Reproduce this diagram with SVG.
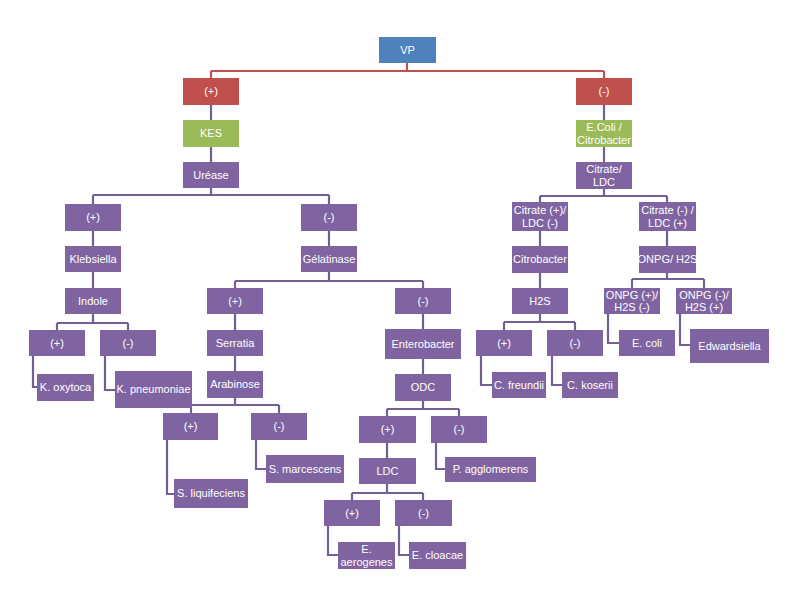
<svg xmlns="http://www.w3.org/2000/svg" width="797" height="599" viewBox="0 0 797 599">
<style>
.b{fill:#4F81BD}.r{fill:#C0504D}.g{fill:#9BBB59}.p{fill:#8064A2}
text{font-family:"Liberation Sans",Arial,sans-serif;font-size:11px;fill:#fff;text-anchor:middle}
.c{fill:none;stroke:#745F94;stroke-width:2.2}
.cr{fill:none;stroke:#C0504D;stroke-width:2.2}
</style>
<rect width="797" height="599" fill="#fff"/>
<g id="connectors">
<path class="cr" d="M407 63V71M211 71H604M211 71V78M604 71V78"/>
<path class="c" d="M211 105V120M211 147V162M604 105V120M604 147V162"/>
<path class="c" d="M211 188V195M93 195H329M93 195V204M329 195V204"/>
<path class="c" d="M93 231V246M93 272V288"/>
<path class="c" d="M93 314V323M57 323H128M57 323V330M128 323V330"/>
<path class="c" d="M33 356V387H37M105 356V390H115"/>
<path class="c" d="M329 231V246M329 272V281M235 281H423M235 281V288M423 281V288"/>
<path class="c" d="M235 314V330M235 356V371M235 398V405M191 405H279M191 405V413M279 405V413"/>
<path class="c" d="M167 440V494H174M256 440V469H266"/>
<path class="c" d="M423 314V329M423 359V374M423 401V409M387 409H459M387 409V416M459 409V416"/>
<path class="c" d="M387 443V458M436 443V469H445"/>
<path class="c" d="M387 484V493M352 493H423M352 493V500M423 493V500"/>
<path class="c" d="M328 526V555H338M399 526V555H409"/>
<path class="c" d="M604 189V196M540 196H667M540 196V202M667 196V202"/>
<path class="c" d="M540 231V246M540 273V288M540 314V322M504 322H575M504 322V330M575 322V330"/>
<path class="c" d="M481 356V385H492M552 356V385H562"/>
<path class="c" d="M667 231V246M667 273V279M632 279H704M632 279V288M704 279V288"/>
<path class="c" d="M608 314V343H619M680 314V345H690"/>
</g>
<g id="vp"><rect class="b" x="379" y="37" width="57" height="26"/><text x="407.5" y="54">VP</text></g>
<g id="pos1"><rect class="r" x="183" y="78" width="56" height="27"/><text x="211" y="95">(+)</text></g>
<g id="neg1"><rect class="r" x="576" y="78" width="56" height="27"/><text x="604" y="95">(-)</text></g>
<g id="kes"><rect class="g" x="183" y="120" width="56" height="27"/><text x="211" y="137">KES</text></g>
<g id="ecoli_citrobacter"><rect class="g" x="576" y="120" width="56" height="27"/><text x="604" y="131">E.Coli /</text><text x="604" y="144">Citrobacter</text></g>
<g id="urease"><rect class="p" x="183" y="162" width="56" height="26"/><text x="211" y="179">Uréase</text></g>
<g id="citrate_ldc"><rect class="p" x="576" y="162" width="56" height="27"/><text x="604" y="173">Citrate/</text><text x="604" y="186">LDC</text></g>
<g id="u_pos"><rect class="p" x="65" y="204" width="56" height="27"/><text x="93" y="221">(+)</text></g>
<g id="u_neg"><rect class="p" x="301" y="204" width="56" height="27"/><text x="329" y="221">(-)</text></g>
<g id="klebsiella"><rect class="p" x="65" y="246" width="56" height="26"/><text x="93" y="263">Klebsiella</text></g>
<g id="gelatinase"><rect class="p" x="301" y="246" width="56" height="26"/><text x="329" y="263">Gélatinase</text></g>
<g id="indole"><rect class="p" x="65" y="288" width="56" height="26"/><text x="93" y="305">Indole</text></g>
<g id="i_pos"><rect class="p" x="29" y="330" width="56" height="26"/><text x="57" y="347">(+)</text></g>
<g id="i_neg"><rect class="p" x="100" y="330" width="56" height="26"/><text x="128" y="347">(-)</text></g>
<g id="k_oxytoca"><rect class="p" x="37" y="374" width="57" height="27"/><text x="65.5" y="391">K. oxytoca</text></g>
<g id="k_pneumoniae"><rect class="p" x="115" y="371" width="77" height="37"/><text x="153.5" y="393">K. pneumoniae</text></g>
<g id="g_pos"><rect class="p" x="207" y="288" width="56" height="26"/><text x="235" y="305">(+)</text></g>
<g id="serratia"><rect class="p" x="207" y="330" width="56" height="26"/><text x="235" y="347">Serratia</text></g>
<g id="arabinose"><rect class="p" x="207" y="371" width="56" height="27"/><text x="235" y="388">Arabinose</text></g>
<g id="a_pos"><rect class="p" x="163" y="413" width="55" height="27"/><text x="190.5" y="430">(+)</text></g>
<g id="a_neg"><rect class="p" x="251" y="413" width="56" height="27"/><text x="279" y="430">(-)</text></g>
<g id="s_marcescens"><rect class="p" x="266" y="455" width="78" height="28"/><text x="305" y="473">S. marcescens</text></g>
<g id="s_liquifeciens"><rect class="p" x="174" y="479" width="74" height="29"/><text x="211" y="497">S. liquifeciens</text></g>
<g id="g_neg"><rect class="p" x="395" y="288" width="56" height="26"/><text x="423" y="305">(-)</text></g>
<g id="enterobacter"><rect class="p" x="385" y="329" width="76" height="30"/><text x="423" y="348">Enterobacter</text></g>
<g id="odc"><rect class="p" x="395" y="374" width="56" height="27"/><text x="423" y="391">ODC</text></g>
<g id="o_pos"><rect class="p" x="359" y="416" width="57" height="27"/><text x="387.5" y="433">(+)</text></g>
<g id="o_neg"><rect class="p" x="431" y="416" width="56" height="27"/><text x="459" y="433">(-)</text></g>
<g id="p_agglomerens"><rect class="p" x="445" y="457" width="91" height="25"/><text x="490.5" y="473">P. agglomerens</text></g>
<g id="ldc"><rect class="p" x="359" y="458" width="57" height="26"/><text x="387.5" y="475">LDC</text></g>
<g id="l_pos"><rect class="p" x="324" y="500" width="56" height="26"/><text x="352" y="517">(+)</text></g>
<g id="l_neg"><rect class="p" x="395" y="500" width="57" height="26"/><text x="423.5" y="517">(-)</text></g>
<g id="e_aerogenes"><rect class="p" x="338" y="542" width="57" height="27"/><text x="366.5" y="553">E.</text><text x="366.5" y="566">aerogenes</text></g>
<g id="e_cloacae"><rect class="p" x="409" y="542" width="57" height="27"/><text x="437.5" y="559">E. cloacae</text></g>
<g id="cit_pos"><rect class="p" x="512" y="202" width="56" height="29"/><text x="540" y="214">Citrate (+)/</text><text x="540" y="227">LDC (-)</text></g>
<g id="cit_neg"><rect class="p" x="639" y="202" width="57" height="29"/><text x="667.5" y="214">Citrate (-) /</text><text x="667.5" y="227">LDC (+)</text></g>
<g id="citrobacter"><rect class="p" x="512" y="246" width="56" height="27"/><text x="540" y="263">Citrobacter</text></g>
<g id="onpg_h2s"><rect class="p" x="639" y="246" width="57" height="27"/><text x="667.5" y="263">ONPG/ H2S</text></g>
<g id="h2s"><rect class="p" x="512" y="288" width="56" height="26"/><text x="540" y="305">H2S</text></g>
<g id="h_pos"><rect class="p" x="476" y="330" width="56" height="26"/><text x="504" y="347">(+)</text></g>
<g id="h_neg"><rect class="p" x="547" y="330" width="56" height="26"/><text x="575" y="347">(-)</text></g>
<g id="c_freundii"><rect class="p" x="492" y="372" width="54" height="26"/><text x="519" y="389">C. freundii</text></g>
<g id="c_koserii"><rect class="p" x="562" y="372" width="56" height="26"/><text x="590" y="389">C. koserii</text></g>
<g id="onpg_pos"><rect class="p" x="604" y="288" width="56" height="26"/><text x="632" y="299">ONPG (+)/</text><text x="632" y="311">H2S (-)</text></g>
<g id="onpg_neg"><rect class="p" x="676" y="288" width="56" height="26"/><text x="704" y="299">ONPG (-)/</text><text x="704" y="311">H2S (+)</text></g>
<g id="e_coli"><rect class="p" x="619" y="330" width="56" height="26"/><text x="647" y="347">E. coli</text></g>
<g id="edwardsiella"><rect class="p" x="690" y="329" width="79" height="34"/><text x="729.5" y="350">Edwardsiella</text></g>
</svg>
